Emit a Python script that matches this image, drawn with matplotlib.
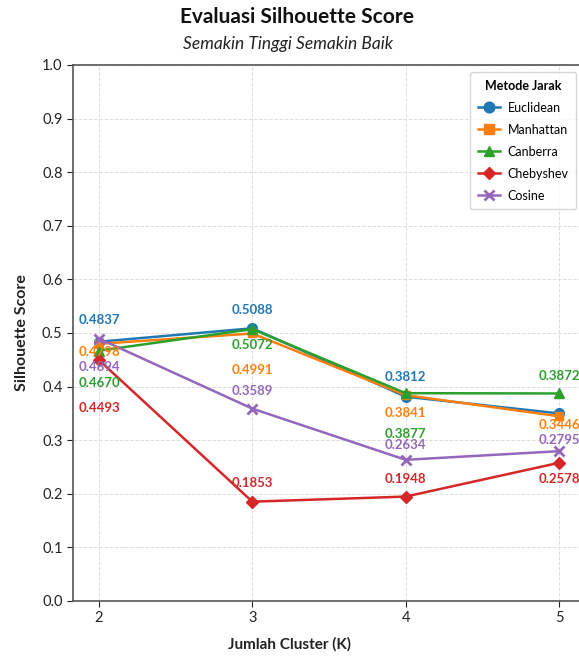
import matplotlib
matplotlib.use("Agg")
import matplotlib.pyplot as plt

plt.rcParams['font.family'] = ['Lato', 'DejaVu Sans']

# Silhouette scores per distance metric for each number of clusters
k_values = [2, 3, 4, 5]
euclidean = [0.4837, 0.5088, 0.3812, 0.3500]
manhattan = [0.4798, 0.4991, 0.3841, 0.3446]
canberra = [0.4670, 0.5072, 0.3877, 0.3872]
chebyshev = [0.4493, 0.1853, 0.1948, 0.2578]
cosine = [0.4894, 0.3589, 0.2634, 0.2795]
y_ticks = [0.0, 0.1, 0.2, 0.3, 0.4, 0.5, 0.6, 0.7, 0.8, 0.9, 1.0]

series = [
    ("Euclidean", euclidean, "#1f77b4", "o", 7),
    ("Manhattan", manhattan, "#ff7f0e", "s", 6),
    ("Canberra", canberra, "#2ca02c", "^", 7),
    ("Chebyshev", chebyshev, "#d62728", "D", 6),
    ("Cosine", cosine, "#9467bd", "x", 7),
]

# vertical pixel offsets of the value labels relative to their markers
label_offsets = {
    "Euclidean": [22, 18, 20, None],
    "Manhattan": [-8, -37, -18, -9],
    "Canberra": [-32, -16, -41, 17],
    "Chebyshev": [-48, 19, 18, -16],
    "Cosine": [-28, 18, 15, 11],
}

fig = plt.figure(figsize=(5.79, 6.56), dpi=100)
ax = fig.add_axes([73 / 579, 55 / 656, 512 / 579, 536 / 656])

for name, vals, color, marker, ms in series:
    ax.plot(k_values, vals, color=color, marker=marker, markersize=ms,
            linewidth=1.8, markeredgewidth=2 if marker == "x" else 1,
            label=name, zorder=3)
    for k, v, off in zip(k_values, vals, label_offsets[name]):
        if off is None:
            continue
        ax.annotate(f"{v:.4f}", (k, v), xytext=(0, off),
                    textcoords="offset pixels", ha="center", va="center",
                    color=color, fontsize=9.5, fontweight="bold", zorder=4)

ax.set_xlim(1.83, 5.17)
ax.set_ylim(0, 1)
ax.set_xticks(k_values)
ax.set_yticks(y_ticks)
ax.set_yticklabels([f"{t:.1f}" for t in y_ticks])
ax.tick_params(labelsize=10.5, colors="#222222", length=4)
ax.grid(True, linestyle="--", color="#dddddd", linewidth=0.7)
ax.set_axisbelow(True)
for sp in ax.spines.values():
    sp.set_color("#555555")
    sp.set_linewidth(1.2)

ax.set_xlabel("Jumlah Cluster (K)", fontsize=11, fontweight="bold",
              color="#222222")
ax.xaxis.set_label_coords((290 - 73) / 512, -36 / 536)
ax.set_ylabel("Silhouette Score", fontsize=11.5, fontweight="bold",
              color="#222222", labelpad=9)

fig.text(297 / 579, 1 - 17 / 656, "Evaluasi Silhouette Score",
         ha="center", va="center", fontsize=15, fontweight="bold",
         color="#111111")
fig.text(288 / 579, 1 - 44 / 656, "Semakin Tinggi Semakin Baik",
         ha="center", va="center", fontsize=12.5, style="italic",
         color="#222222")

leg = ax.legend(title="Metode Jarak", loc="upper left",
                bbox_to_anchor=(397 / 512, 1 - 7 / 536), fontsize=9,
                title_fontproperties={"weight": "bold", "size": 9},
                frameon=True, borderpad=0.6, labelspacing=0.8,
                handlelength=1.8, handletextpad=0.6, borderaxespad=0,
                markerscale=1.1)
leg.get_frame().set_edgecolor("#cccccc")

fig.savefig("out.png", dpi=100, facecolor="white")
